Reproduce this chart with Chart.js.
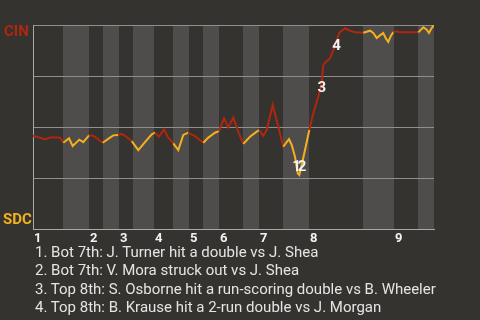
<!DOCTYPE html>
<html>
<head>
<meta charset="utf-8">
<script src="https://cdn.jsdelivr.net/npm/chart.js@4"></script>
<style>
  html, body { margin: 0; padding: 0; background: #35332f; }
  #wrap { position: relative; width: 480px; height: 320px; }
  #notes {
    position: absolute; left: 35px; top: 243px;
    font-family: Roboto, sans-serif; font-size: 15px; line-height: 18.3px;
    color: #e4e4e4; white-space: nowrap;
  }
</style>
</head>
<body>
<div id="wrap">
  <canvas id="wp" width="480" height="320"></canvas>
  <div id="notes">
    <div>1. Bot 7th: J. Turner hit a double vs J. Shea</div>
    <div>2. Bot 7th: V. Mora struck out vs J. Shea</div>
    <div>3. Top 8th: S. Osborne hit a run-scoring double vs B. Wheeler</div>
    <div>4. Top 8th: B. Krause hit a 2-run double vs J. Morgan</div>
  </div>
</div>
<script>
// game progress (x) and CIN win probability (%)
const playPos = [0, 12, 17, 27, 30.3, 36, 39.7, 46.3, 50.3, 56, 60.3, 69.7, 77, 80.3, 85.3, 88.7,
  93.7, 98.7, 105.3, 113.7, 118.7, 122, 126, 131, 134.7, 140.3, 145.3, 150.3, 155.3, 162, 170.3,
  175.3, 182, 186, 191, 195.3, 200.3, 205.3, 210.3, 217, 223.7, 226.3, 230.3, 233.7, 239.7, 245.3,
  250.3, 252.7, 256, 258.7, 262, 264.7, 266.3, 268.7, 272, 276.3, 280.3, 285.3, 288.7, 290.3, 292,
  297, 300.3, 303.7, 306.3, 308.7, 312, 317, 322, 330.3, 337, 340.3, 343.7, 347, 350.3, 353, 355.3,
  357.7, 360.3, 363.7, 367, 385.3, 390.3, 393.7, 396, 398.7, 401];
const winProb = [45.7, 44.0, 44.8, 44.8, 42.3, 44.5, 40.7, 43.8, 42.6, 45.9, 45.7, 42.3, 44.8, 45.9, 46.1, 46.6,
  45.1, 43.1, 38.7, 43.6, 46.4, 47.2, 45.2, 48.9, 45.2, 42.0, 38.7, 46.1, 47.2, 45.6, 42.3,
  44.8, 47.2, 48.0, 54.3, 49.9, 54.6, 47.7, 41.7, 45.2, 47.7, 48.5, 45.6, 48.5, 60.8, 50.1,
  40.3, 42.0, 44.0, 41.2, 35.4, 27.3, 26.5, 31.4, 38.7, 48.5, 56.7, 64.9, 71.4, 80.4, 81.5,
  83.7, 87.7, 92.6, 96.2, 97.1, 98.4, 97.2, 96.4, 96.2, 97.2, 96.1, 93.6, 94.9, 96.1, 93.3, 91.7,
  94.5, 96.6, 96.9, 96.4, 96.4, 98.9, 97.7, 96.1, 98.5, 100];

// half-inning boundaries: [top1 start, bot1 start, top2 start, ...]
const halfStarts = [0, 30, 56, 70, 86, 100, 121, 140, 156, 170, 186, 210, 226, 250, 276, 330, 361, 385, 401];
const innings = ['1', '2', '3', '4', '5', '6', '7', '8', '9'];

// key play markers
const eventLabels = ['1', '2', '3', '4'];
const eventX = [263.5, 269, 288.7, 303.5];
const eventV = [30.1, 30.1, 69.1, 89.7];

const teamTop = 'CIN';
const teamBottom = 'SDC';

const RED = '#b0260f';
const YELLOW = '#f4b11d';

function isBottomHalf(x) {
    for (let i = 0; i < halfStarts.length - 1; i++) {
        if (x >= halfStarts[i] && x < halfStarts[i + 1]) return i % 2 === 1;
    }
    return true;
}

const bandsPlugin = {
    id: 'bands',
    beforeDraw(chart) {
        const { ctx, chartArea, scales: { x } } = chart;
        ctx.save();
        ctx.fillStyle = '#35332f';
        ctx.fillRect(0, 0, chart.width, chart.height);
        ctx.fillStyle = '#4e4d4b';
        for (let i = 1; i < halfStarts.length - 1; i += 2) {
            const x0 = x.getPixelForValue(halfStarts[i]);
            const x1 = x.getPixelForValue(halfStarts[i + 1]);
            ctx.fillRect(x0, chartArea.top, x1 - x0, chartArea.bottom - chartArea.top);
        }
        ctx.restore();
    },
    afterDraw(chart) {
        const { ctx, scales: { x, y } } = chart;
        ctx.save();
        ctx.font = 'bold 15px Roboto, sans-serif';
        ctx.textAlign = 'left';
        ctx.textBaseline = 'middle';
        ctx.fillStyle = RED;
        ctx.fillText(teamTop, 4, y.getPixelForValue(100) + 7);
        ctx.fillStyle = YELLOW;
        ctx.fillText(teamBottom, 3, y.getPixelForValue(0) - 9);

        ctx.font = 'bold 15px Roboto, sans-serif';
        ctx.textAlign = 'center';
        ctx.fillStyle = '#f2f2f2';
        eventLabels.forEach((lbl, i) => {
            ctx.fillText(lbl, x.getPixelForValue(eventX[i]), y.getPixelForValue(eventV[i]));
        });
        ctx.restore();
    }
};

const inningStarts = halfStarts.filter((v, i) => i % 2 === 0 && i < halfStarts.length - 1);

new Chart(document.getElementById('wp'), {
    type: 'line',
    data: {
        datasets: [{
            data: playPos.map((p, i) => ({ x: p, y: winProb[i] })),
            borderWidth: 2,
            pointRadius: 0,
            tension: 0,
            fill: false,
            segment: {
                borderColor: ctx => isBottomHalf((ctx.p0.parsed.x + ctx.p1.parsed.x) / 2) ? YELLOW : RED
            }
        }]
    },
    options: {
        responsive: false,
        animation: false,
        events: [],
        layout: { padding: { left: 33, right: 46, top: 25, bottom: 71 } },
        plugins: { legend: { display: false }, tooltip: { enabled: false } },
        scales: {
            x: {
                type: 'linear',
                min: 0,
                max: 401,
                afterBuildTicks: scale => {
                    scale.ticks = inningStarts.map(v => ({ value: v }));
                },
                afterFit: scale => { scale.height = 20; },
                grid: { display: false, drawTicks: false },
                border: { display: true, color: '#a8a8a8', width: 1 },
                ticks: {
                    autoSkip: false,
                    maxRotation: 0,
                    padding: 2,
                    align: 'start',
                    labelOffset: 1,
                    color: '#f2f2f2',
                    font: { family: 'Roboto, sans-serif', size: 13, weight: 'bold' },
                    callback: (v, i) => innings[i]
                }
            },
            y: {
                min: 0,
                max: 100,
                afterBuildTicks: scale => {
                    scale.ticks = [0, 25, 50, 75, 100].map(v => ({ value: v }));
                },
                afterFit: scale => { scale.width = 0; },
                grid: { color: '#8f8f8f', lineWidth: 1, drawTicks: false },
                border: { display: true, color: '#a8a8a8', width: 1 },
                ticks: { display: false }
            }
        }
    },
    plugins: [bandsPlugin]
});
</script>
</body>
</html>
